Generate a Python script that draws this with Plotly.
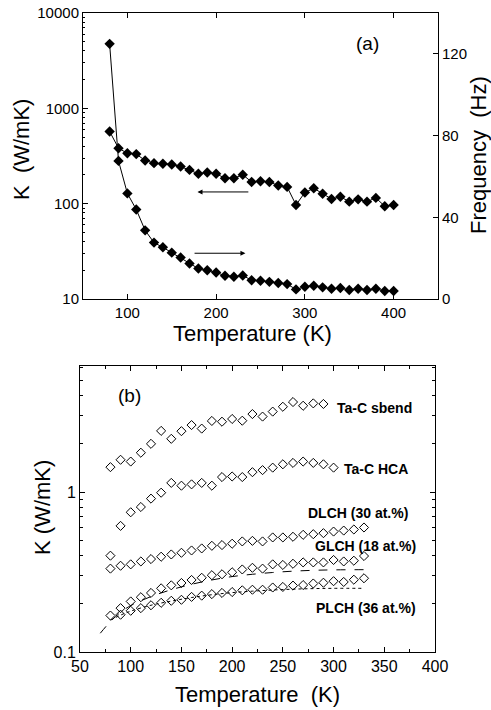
import math
import plotly.graph_objects as go

# ---------------- Panel (a) data ----------------
T_a = list(range(80, 410, 10))
K_a = [572, 382, 338, 331, 284, 266, 262, 258, 245, 226, 206, 212, 206, 185, 185, 201,
       169, 172, 169, 155, 150, 97, 131, 145, 127, 112, 118, 105, 111, 105, 115, 94, 97]
F_a = [124.9, 67.6, 51.7, 43.8, 33.6, 27.6, 25.3, 22.7, 20.3, 17.4, 14.9, 14.1, 13.0, 11.4,
       10.9, 11.5, 9.2, 8.9, 8.4, 7.8, 7.3, 4.7, 6.0, 6.5, 5.7, 5.0, 5.4, 4.4, 5.0, 4.4, 5.0,
       3.9, 3.9]

# ---------------- Panel (b) data ----------------
T_sbend = list(range(80, 300, 10))
K_sbend = [1.43, 1.59, 1.55, 1.76, 2.0, 2.41, 2.15, 2.40, 2.62, 2.49, 2.78, 2.75, 2.86, 2.79,
           3.07, 2.96, 3.18, 3.41, 3.65, 3.46, 3.58, 3.55]
T_hca = list(range(80, 310, 10))
K_hca = [0.40, 0.614, 0.747, 0.806, 0.909, 0.99, 1.14, 1.095, 1.116, 1.14, 1.095, 1.24, 1.25,
         1.24, 1.33, 1.37, 1.42, 1.49, 1.52, 1.55, 1.52, 1.49, 1.42]
T_dlch = list(range(80, 340, 10))
K_dlch = [0.332, 0.346, 0.353, 0.368, 0.381, 0.394, 0.407, 0.417, 0.431, 0.444, 0.461, 0.466,
          0.475, 0.491, 0.495, 0.491, 0.520, 0.520, 0.525, 0.540, 0.545, 0.553, 0.566, 0.574,
          0.583, 0.600]
T_glch = list(range(80, 340, 10))
K_glch = [0.169, 0.188, 0.207, 0.220, 0.234, 0.250, 0.261, 0.270, 0.282, 0.291, 0.302, 0.306,
          0.315, 0.328, 0.336, 0.332, 0.353, 0.350, 0.356, 0.363, 0.363, 0.363, 0.376, 0.368,
          0.372, 0.398]
T_plch = list(range(90, 340, 10))
K_plch = [0.171, 0.181, 0.188, 0.196, 0.203, 0.209, 0.212, 0.221, 0.225, 0.230, 0.234, 0.237,
          0.243, 0.245, 0.245, 0.253, 0.255, 0.260, 0.262, 0.268, 0.271, 0.277, 0.274, 0.283,
          0.289]
# fit curves
T_glch_fit = [70, 80, 90, 100, 120, 140, 160, 180, 200, 220, 240, 260, 280, 300, 330]
K_glch_fit = [0.131, 0.155, 0.177, 0.195, 0.222, 0.245, 0.265, 0.282, 0.296, 0.306, 0.314,
              0.320, 0.324, 0.326, 0.327]
T_plch_fit = [80, 90, 100, 120, 140, 160, 180, 200, 220, 240, 260, 280, 300, 330]
K_plch_fit = [0.158, 0.170, 0.180, 0.196, 0.208, 0.219, 0.228, 0.235, 0.240, 0.244, 0.247,
              0.249, 0.250, 0.250]

labels_b = ["Ta-C sbend", "Ta-C HCA", "DLCH (30 at.%)", "GLCH (18 at.%)", "PLCH (36 at.%)"]
label_x = [301, 308, 273, 280, 281]
label_y = [3.35, 1.40, 0.74, 0.459, 0.188]

FONT = "Arial, Liberation Sans, sans-serif"
W, H = 491, 710

fig = go.Figure()

# panel a
fig.add_trace(go.Scatter(x=T_a, y=K_a, mode="lines+markers", xaxis="x", yaxis="y",
                         line=dict(color="black", width=1),
                         marker=dict(symbol="diamond", size=8, color="black"),
                         showlegend=False))
fig.add_trace(go.Scatter(x=T_a, y=F_a, mode="lines+markers", xaxis="x", yaxis="y2",
                         line=dict(color="black", width=1),
                         marker=dict(symbol="diamond", size=8, color="black"),
                         showlegend=False))

# panel b
for tx, ky in [(T_sbend, K_sbend), (T_hca, K_hca), (T_dlch, K_dlch), (T_glch, K_glch), (T_plch, K_plch)]:
    fig.add_trace(go.Scatter(x=tx, y=ky, mode="markers", xaxis="x3", yaxis="y3",
                             marker=dict(symbol="diamond-open", size=7, color="black",
                                         line=dict(width=1, color="black")),
                             showlegend=False))
fig.add_trace(go.Scatter(x=T_glch_fit, y=K_glch_fit, mode="lines", xaxis="x3", yaxis="y3",
                         line=dict(color="black", width=1, dash="dash", shape="spline"),
                         showlegend=False))
fig.add_trace(go.Scatter(x=T_plch_fit, y=K_plch_fit, mode="lines", xaxis="x3", yaxis="y3",
                         line=dict(color="black", width=1, dash="dot", shape="spline"),
                         showlegend=False))

def px2x(p):
    return p / W

def px2y(p):
    return 1 - p / H

axis_common = dict(showline=True, linecolor="black", linewidth=1, ticks="inside",
                   tickcolor="black", ticklen=5, showgrid=False, zeroline=False,
                   automargin=False, ticklabeloverflow="allow",
                   tickfont=dict(family=FONT, size=15, color="black"))

minor_log = [v * m for v in (1, 10, 100, 1000) for m in range(2, 10)]
minor_log_b = [0.2, 0.3, 0.4, 0.5, 0.6, 0.7, 0.8, 0.9, 2, 3, 4, 5, 6]

fig.update_layout(
    width=W, height=H, margin=dict(l=0, r=0, t=0, b=0, autoexpand=False),
    paper_bgcolor="white", plot_bgcolor="white",
    font=dict(family=FONT, color="black"),
    xaxis=dict(axis_common, domain=[px2x(83), px2x(438)], range=[50, 450],
               tickvals=[100, 200, 300, 400], mirror="ticks", anchor="y"),
    yaxis=dict(axis_common, domain=[px2y(299), px2y(13)], type="log", range=[1, 4],
               tickvals=[10, 100, 1000, 10000], ticktext=["10", "100", "1000", "10000"],
               minor=dict(tickvals=minor_log, ticks="inside", ticklen=2, tickcolor="black"),
               anchor="x"),
    yaxis2=dict(axis_common, overlaying="y", side="right", range=[0, 140],
                tickvals=[0, 40, 80, 120], anchor="x"),
    xaxis3=dict(axis_common, domain=[px2x(80), px2x(435)], range=[50, 400], dtick=50,
                tick0=50, mirror="ticks", anchor="y3",
                tickfont=dict(family=FONT, size=16, color="black"),
                minor=dict(dtick=25, ticks="inside", ticklen=3, tickcolor="black")),
    yaxis3=dict(axis_common, domain=[px2y(652), px2y(366)], type="log", range=[-1, 0.7875],
                tickvals=[0.1, 1], ticktext=["0.1", "1"], mirror="ticks", anchor="x3",
                tickfont=dict(family=FONT, size=16, color="black"),
                minor=dict(tickvals=minor_log_b, ticks="inside", ticklen=3, tickcolor="black")),
)

ann = []
def title(text, xp, yp, angle=0):
    ann.append(dict(text=text, x=px2x(xp), y=px2y(yp), xref="paper", yref="paper",
                    xanchor="center", yanchor="middle", showarrow=False, textangle=angle,
                    font=dict(size=22, family=FONT)))

title("K  (W/mK)", 22, 150, -90)
title("Frequency  (Hz)", 479, 155, -90)
title("Temperature (K)", 252, 333)
title("K (W/mK)", 42, 508, -90)
title("Temperature  (K)", 257, 694)

# panel labels
ann.append(dict(text="(a)", x=370, y=3.685, xref="x", yref="y", showarrow=False,
                xanchor="center", yanchor="middle", font=dict(size=19, family=FONT)))
ann.append(dict(text="(b)", x=98.6, y=0.6017, xref="x3", yref="y3", showarrow=False,
                xanchor="center", yanchor="middle", font=dict(size=19, family=FONT)))
# arrows
ann.append(dict(text="", x=179, y=2.123, ax=238, ay=2.123, xref="x", yref="y",
                axref="x", ayref="y", showarrow=True, arrowhead=2, arrowsize=1,
                arrowwidth=1, arrowcolor="black"))
ann.append(dict(text="", x=233, y=22.4, ax=174, ay=22.4, xref="x", yref="y2",
                axref="x", ayref="y2", showarrow=True, arrowhead=2, arrowsize=1,
                arrowwidth=1, arrowcolor="black"))
# series labels
for t, lx, ly in zip(labels_b, label_x, label_y):
    ann.append(dict(text="<b>" + t + "</b>", x=lx, y=math.log10(ly), xref="x3", yref="y3",
                    xanchor="left", yanchor="middle", showarrow=False,
                    font=dict(size=14, family=FONT)))

fig.update_layout(annotations=ann)
fig.write_html("out.html", config={"displayModeBar": False},
               post_script="document.body.style.margin='0';document.body.style.overflow='hidden';")
